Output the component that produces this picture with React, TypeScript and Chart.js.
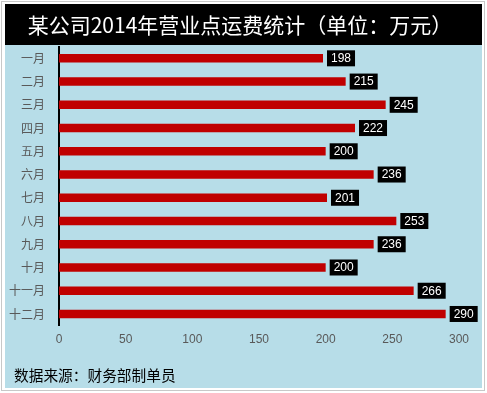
import React, { useEffect, useRef } from "react";
import { Chart, registerables } from "chart.js";

Chart.register(...registerables);

const titleText = "某公司2014年营业点运费统计（单位：万元）";
const footerText = "数据来源：财务部制单员";
const categories = ["一月", "二月", "三月", "四月", "五月", "六月", "七月", "八月", "九月", "十月", "十一月", "十二月"];
const values = [198, 215, 245, 222, 200, 236, 201, 253, 236, 200, 266, 290];
const xMin = 0;
const xMax = 300;
const xStep = 50;

const W = 487;
const H = 393;
const PANEL = { x: 5, y: 4, w: 477, h: 384 };
const TITLE_BAR_H = 41;
const CJK = '"Noto Sans CJK SC", "Noto Sans", sans-serif';

const framePlugin = {
  id: "frame",
  beforeDraw(chart: any) {
    const ctx = chart.ctx;
    ctx.save();
    ctx.fillStyle = "#ffffff";
    ctx.fillRect(0, 0, W, H);
    ctx.strokeStyle = "#c8c8c8";
    ctx.lineWidth = 1;
    ctx.strokeRect(1.5, 1.5, 483, 389);
    ctx.fillStyle = "#b7dde8";
    ctx.fillRect(PANEL.x, PANEL.y, PANEL.w, PANEL.h);
    ctx.fillStyle = "#000000";
    ctx.fillRect(PANEL.x, PANEL.y, PANEL.w, TITLE_BAR_H);
    ctx.fillStyle = "#ffffff";
    ctx.font = "21px " + CJK;
    ctx.textAlign = "center";
    ctx.textBaseline = "middle";
    ctx.fillText(titleText, 240, 25.5);
    ctx.fillStyle = "#000000";
    ctx.font = "14.7px " + CJK;
    ctx.textAlign = "left";
    ctx.fillText(footerText, 14, 375);
    ctx.restore();
  },
};

const labelPlugin = {
  id: "valueLabels",
  afterDatasetsDraw(chart: any) {
    const ctx = chart.ctx;
    const meta = chart.getDatasetMeta(0);
    ctx.save();
    ctx.font = '12px "Liberation Sans", Arial, sans-serif';
    ctx.textBaseline = "middle";
    ctx.textAlign = "left";
    meta.data.forEach((el: any, i: number) => {
      const txt = String(values[i]);
      const tw = ctx.measureText(txt).width;
      const bx = el.x + 4;
      const bw = tw + 8;
      ctx.fillStyle = "#000000";
      ctx.fillRect(bx, el.y - 8, bw, 16);
      ctx.fillStyle = "#ffffff";
      ctx.fillText(txt, bx + 4, el.y + 0.5);
    });
    ctx.restore();
  },
};

export default function App() {
  const ref = useRef<HTMLCanvasElement | null>(null);
  useEffect(() => {
    if (!ref.current) return;
    const chart = new Chart(ref.current, {
      type: "bar",
      data: {
        labels: categories,
        datasets: [
          {
            data: values,
            backgroundColor: "#c00000",
            borderWidth: 0,
            categoryPercentage: 1,
            barPercentage: 0.37,
          },
        ],
      },
      options: {
        indexAxis: "y",
        animation: false,
        responsive: false,
        maintainAspectRatio: false,
        layout: { padding: { top: 46.7, left: 5, right: 28, bottom: 0 } },
        plugins: {
          legend: { display: false },
          title: { display: false },
          tooltip: { enabled: false },
        },
        scales: {
          x: {
            min: xMin,
            max: xMax,
            ticks: {
              stepSize: xStep,
              color: "#595959",
              font: { family: '"Liberation Sans", Arial, sans-serif', size: 12 },
              padding: 7,
            },
            grid: { display: false, drawTicks: false },
            border: { display: false },
            afterFit(scale: any) {
              scale.height = 67.4;
            },
          },
          y: {
            ticks: {
              color: "#595959",
              font: { family: CJK, size: 12 },
              padding: 14,
            },
            grid: { display: false, drawTicks: false },
            border: { display: true, color: "#000000", width: 2 },
            afterFit(scale: any) {
              scale.width = 54;
            },
          },
        },
      },
      plugins: [framePlugin, labelPlugin],
    } as any);
    return () => chart.destroy();
  }, []);
  return (
    <div style={{ position: "fixed", left: 0, top: 0, width: W, height: H }}>
      <canvas ref={ref} width={W} height={H} style={{ width: W, height: H, display: "block" }} />
    </div>
  );
}
